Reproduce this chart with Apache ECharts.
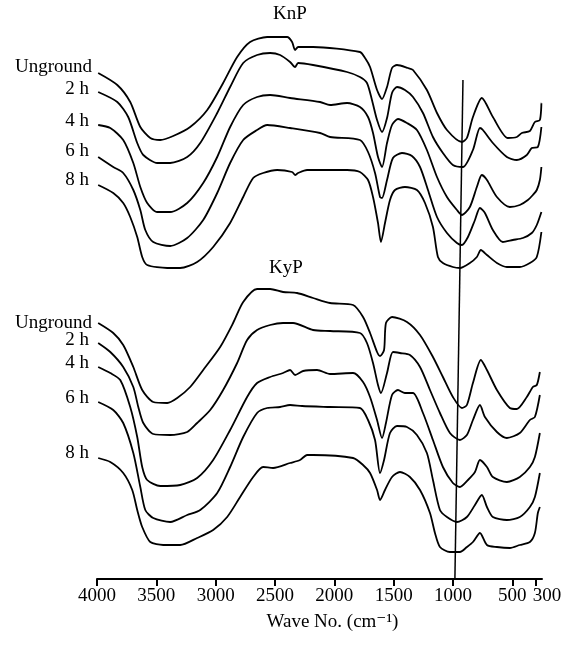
<!DOCTYPE html>
<html>
<head>
<meta charset="utf-8">
<script src="https://cdn.jsdelivr.net/npm/echarts@6/dist/echarts.min.js"></script>
<style>
  html, body { margin: 0; padding: 0; background: #fff; }
  #chart { width: 565px; height: 653px; }
</style>
</head>
<body>
<div id="chart"></div>
<script>
// wave number ticks on the bottom axis
const tickValues = [4000, 3500, 3000, 2500, 2000, 1500, 1000, 500, 300];

// spectra, [wave number, offset transmittance]
// KnP group
const knpUnground = [[3990,506],[3829,494],[3720,477],[3635,452],[3551,441],[3467,439],[3358,443],[3215,452],[3071,469],[2937,496],[2819,522],[2710,537],[2566,542],[2398,542],[2356,537],[2331,529],[2305,532],[2179,532],[1784,527],[1741,521],[1699,512],[1640,489],[1598,480],[1556,492],[1514,511],[1472,514],[1379,511],[1337,509],[1220,489],[1135,466],[1051,449],[925,437],[883,441],[832,462],[757,481],[664,462],[538,441],[462,442],[420,446],[352,448],[310,457],[268,459],[255,476]];
const knp2h = [[3990,487],[3829,477],[3737,462],[3661,436],[3610,424],[3492,416],[3383,416],[3240,422],[3130,436],[2987,466],[2878,492],[2768,516],[2651,524],[2541,526],[2457,524],[2373,517],[2331,512],[2305,516],[2179,514],[1893,507],[1784,502],[1725,496],[1683,479],[1640,459],[1598,447],[1556,461],[1514,486],[1472,492],[1405,489],[1337,482],[1253,466],[1169,442],[1085,426],[1001,414],[916,412],[832,429],[773,451],[748,449],[664,436],[546,422],[462,419],[378,424],[336,431],[285,432],[255,452]];
const knp4h = [[3990,454],[3888,451],[3779,439],[3694,416],[3635,392],[3577,376],[3492,367],[3383,367],[3240,376],[3105,396],[2987,422],[2878,452],[2768,474],[2651,482],[2541,484],[2373,481],[2120,477],[2036,474],[1893,476],[1784,472],[1716,462],[1674,446],[1632,422],[1598,412],[1556,436],[1514,454],[1464,460],[1388,456],[1304,449],[1220,429],[1135,402],[1051,382],[967,369],[925,364],[858,372],[799,392],[757,404],[714,399],[630,382],[521,372],[437,374],[369,379],[327,384],[294,389],[268,399],[255,412]];
const knp6h = [[3990,422],[3863,412],[3779,406],[3694,389],[3635,369],[3593,349],[3526,337],[3383,333],[3240,341],[3105,359],[2987,386],[2878,416],[2768,439],[2651,449],[2566,454],[2373,451],[2120,446],[2036,442],[1784,439],[1716,427],[1657,406],[1615,382],[1598,381],[1556,399],[1506,421],[1430,426],[1346,423],[1278,412],[1211,389],[1135,362],[1051,346],[967,336],[925,334],[874,342],[815,359],[773,371],[731,366],[664,349],[580,337],[496,339],[411,341],[336,346],[294,354],[255,367]];
const knp8h = [[3990,394],[3863,386],[3779,376],[3720,362],[3661,342],[3619,322],[3577,314],[3408,311],[3299,311],[3156,317],[3021,332],[2878,356],[2768,382],[2684,401],[2600,406],[2482,409],[2356,407],[2331,404],[2305,406],[2230,409],[1893,409],[1784,407],[1716,399],[1674,382],[1632,356],[1607,337],[1573,356],[1531,379],[1489,389],[1405,392],[1304,389],[1236,376],[1169,352],[1127,322],[1085,316],[1001,312],[942,311],[858,316],[799,322],[765,329],[714,324],[630,316],[546,312],[437,312],[352,316],[294,322],[255,347]];
// KyP group
const kypUnground = [[3990,256],[3863,246],[3779,234],[3694,212],[3619,189],[3526,177],[3408,176],[3324,181],[3215,192],[3105,209],[2962,232],[2853,256],[2768,277],[2651,290],[2541,290],[2432,287],[2314,286],[2179,281],[2036,276],[1842,274],[1758,262],[1699,246],[1640,227],[1615,223],[1581,229],[1565,256],[1514,262],[1388,257],[1278,244],[1169,222],[1085,202],[1001,182],[925,171],[883,174],[832,196],[765,219],[714,209],[630,189],[521,171],[462,170],[378,182],[327,192],[294,194],[268,207]];
const kyp2h = [[3990,236],[3888,227],[3779,212],[3694,192],[3652,172],[3610,156],[3526,145],[3383,144],[3240,147],[3156,156],[3046,169],[2937,189],[2819,216],[2735,239],[2651,249],[2541,254],[2432,256],[2348,256],[2179,249],[2036,248],[1784,246],[1725,236],[1674,216],[1632,194],[1607,186],[1556,206],[1506,227],[1447,226],[1363,224],[1278,212],[1194,189],[1110,166],[1026,146],[942,139],[883,144],[832,159],[773,174],[731,162],[630,147],[546,141],[437,146],[352,159],[310,162],[268,184]];
const kyp4h = [[3990,212],[3888,206],[3804,199],[3720,172],[3661,142],[3619,112],[3577,99],[3467,93],[3299,94],[3156,101],[3021,119],[2878,149],[2735,182],[2651,196],[2541,202],[2432,206],[2373,209],[2331,204],[2263,208],[2145,209],[2036,205],[1842,206],[1758,197],[1699,182],[1640,159],[1598,141],[1565,156],[1514,184],[1464,189],[1405,186],[1337,186],[1253,166],[1169,139],[1085,112],[1001,96],[942,92],[874,99],[815,107],[773,119],[714,112],[664,102],[546,97],[437,102],[352,112],[310,122],[268,146]];
const kyp6h = [[3990,177],[3863,169],[3779,156],[3694,126],[3635,92],[3593,69],[3526,61],[3383,57],[3240,64],[3130,69],[2987,86],[2878,112],[2768,142],[2651,166],[2566,171],[2457,172],[2373,174],[2272,173],[2036,172],[1784,171],[1716,159],[1657,139],[1615,106],[1581,119],[1531,146],[1472,153],[1388,152],[1304,144],[1220,126],[1169,99],[1110,69],[1051,62],[967,57],[883,62],[815,74],[757,84],[714,72],[664,62],[546,59],[437,62],[352,72],[310,82],[268,106]];
const kyp8h = [[3990,121],[3888,117],[3779,106],[3703,89],[3661,69],[3619,52],[3551,37],[3442,34],[3299,34],[3156,41],[3021,49],[2903,62],[2794,82],[2684,102],[2600,112],[2516,111],[2373,116],[2289,119],[2230,124],[2179,124],[1842,121],[1758,114],[1699,106],[1640,89],[1615,79],[1573,89],[1514,102],[1447,107],[1363,102],[1278,89],[1194,66],[1152,46],[1110,32],[1026,27],[942,27],[883,32],[832,37],[773,46],[714,34],[630,32],[521,31],[437,34],[352,37],[310,46],[285,66],[268,72]];

// reference line near 1000 cm-1 (slightly slanted in the figure)
const refLine = [[916,499],[984,0]];

const seriesNames = ['Unground', '2 h', '4 h', '6 h', '8 h'];
const knpSeries = [knpUnground, knp2h, knp4h, knp6h, knp8h];
const kypSeries = [kypUnground, kyp2h, kyp4h, kyp6h, kyp8h];

const font = '"Liberation Serif", "Times New Roman", "DejaVu Serif", serif';

const chart = echarts.init(document.getElementById('chart'));

const series = [];
knpSeries.forEach((d, i) => series.push({
  name: 'KnP ' + seriesNames[i], type: 'line', data: d,
  showSymbol: false, smooth: 0.25, lineStyle: { color: '#000', width: 1.8 }, z: 3
}));
kypSeries.forEach((d, i) => series.push({
  name: 'KyP ' + seriesNames[i], type: 'line', data: d,
  showSymbol: false, smooth: 0.25, lineStyle: { color: '#000', width: 1.8 }, z: 3
}));
series.push({
  name: 'ref', type: 'line', data: refLine, showSymbol: false,
  lineStyle: { color: '#000', width: 1.5 }, z: 2
});

// text labels next to curve starts
const leftLabels = [
  ['Unground', 92, 67], ['2 h', 89, 89], ['4 h', 89, 121], ['6 h', 89, 151], ['8 h', 89, 180],
  ['Unground', 92, 323], ['2 h', 89, 340], ['4 h', 89, 363], ['6 h', 89, 398], ['8 h', 89, 453]
];
const graphics = leftLabels.map(l => ({
  type: 'text',
  style: { text: l[0], x: l[1], y: l[2], textAlign: 'right', textVerticalAlign: 'middle', font: '19px ' + font, fill: '#000' }
}));
graphics.push({ type: 'text', style: { text: 'KnP', x: 290, y: 14, textAlign: 'center', textVerticalAlign: 'middle', font: '19px ' + font, fill: '#000' } });
graphics.push({ type: 'text', style: { text: 'KyP', x: 286, y: 268, textAlign: 'center', textVerticalAlign: 'middle', font: '19px ' + font, fill: '#000' } });

chart.setOption({
  animation: false,
  backgroundColor: '#fff',
  grid: { left: 97, right: 23, top: 19, bottom: 74 },
  xAxis: {
    type: 'value', inverse: true, min: 250, max: 4000,
    name: 'Wave No. (cm⁻¹)', nameLocation: 'middle', nameGap: 34,
    nameTextStyle: { fontFamily: font, fontSize: 19, color: '#000', padding: [0, 0, 0, 26] },
    axisLine: { lineStyle: { color: '#000', width: 2 } },
    axisTick: { customValues: tickValues, length: 7, lineStyle: { color: '#000', width: 2 } },
    axisLabel: {
      customValues: tickValues, margin: 8, color: '#000', fontFamily: font, fontSize: 19,
      formatter: v => v === 300 ? '{r|300}' : String(v),
      rich: { r: { fontFamily: font, fontSize: 19, color: '#000', padding: [0, 0, 0, 22] } }
    },
    splitLine: { show: false }
  },
  yAxis: { type: 'value', min: 0, max: 560, show: false },
  graphic: graphics,
  series: series
});
</script>
</body>
</html>
